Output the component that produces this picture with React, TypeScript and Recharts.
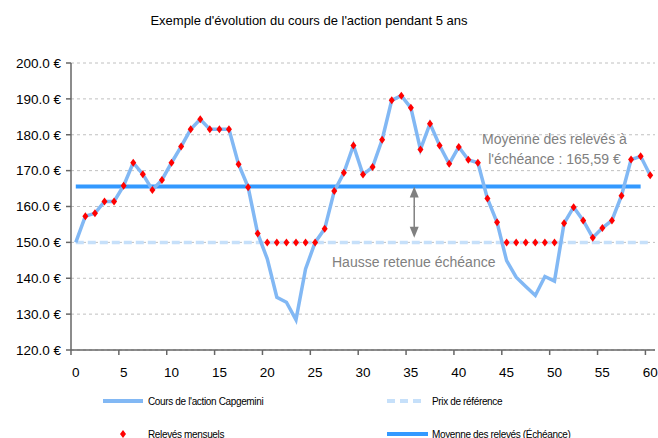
import React from 'react';
import { LineChart, Line, XAxis, YAxis, CartesianGrid, ReferenceLine, ReferenceDot } from 'recharts';

const MONTHS = [0,1,2,3,4,5,6,7,8,9,10,11,12,13,14,15,16,17,18,19,20,21,22,23,24,25,26,27,28,29,30,31,32,33,34,35,36,37,38,39,40,41,42,43,44,45,46,47,48,49,50,51,52,53,54,55,56,57,58,59,60];
const PRICES = [150,157.3,158.1,161.4,161.4,165.8,172.2,169.0,164.6,167.4,172.2,176.7,181.5,184.3,181.5,181.5,181.5,171.8,165.4,152.5,145.4,134.7,133.3,128.4,142.6,150.0,153.8,164.3,169.4,177.0,168.9,171.0,178.6,189.6,190.9,187.5,175.9,183.1,177.0,171.9,176.6,173.0,172.2,162.2,155.6,144.9,140.3,137.7,135.2,140.5,139.2,155.3,159.8,156.1,151.3,154.0,156.1,163.0,173.1,174.0,168.7];
const RELEVES = [null,157.3,158.1,161.4,161.4,165.8,172.2,169.0,164.6,167.4,172.2,176.7,181.5,184.3,181.5,181.5,181.5,171.8,165.4,152.5,150,150,150,150,150,150,153.8,164.3,169.4,177.0,168.9,171.0,178.6,189.6,190.9,187.5,175.9,183.1,177.0,171.9,176.6,173.0,172.2,162.2,155.6,150,150,150,150,150,150,155.3,159.8,156.1,151.3,154.0,156.1,163.0,173.1,174.0,168.7];
const REFERENCE_PRICE = 150;
const AVERAGE = 165.59;
const AVERAGE_LAST_MONTH = 59;
const X_TICKS = [0,5,10,15,20,25,30,35,40,45,50,55,60];
const Y_TICKS = [120,130,140,150,160,170,180,190,200];

const TITLE = "Exemple d'évolution du cours de l'action pendant 5 ans";
const LEGEND_PRICE = "Cours de l'action Capgemini";
const LEGEND_REF = 'Prix de référence';
const LEGEND_RELEVES = 'Relevés mensuels';
const LEGEND_AVG = 'Moyenne des relevés (Échéance)';
const NOTE_AVG_1 = 'Moyenne des relevés à';
const NOTE_AVG_2 = "l'échéance : 165,59 €";
const NOTE_HAUSSE = 'Hausse retenue échéance';

const FONT = "'Liberation Sans', Arial, sans-serif";
const C_PRICE = '#82B8F4';
const C_REF = '#C6E0FA';
const C_AVG = '#3399FF';
const C_RED = '#FF0000';
const C_NOTE = '#808080';

const data = MONTHS.map((m, i) => ({
  month: m,
  price: PRICES[i],
  releve: RELEVES[i],
  ref: REFERENCE_PRICE,
  avg: m <= AVERAGE_LAST_MONTH ? AVERAGE : null,
}));

const Diamond = (p: any) => {
  const { cx, cy, value, index } = p;
  if (value == null || cx == null || cy == null) return <g key={`d${index}`} />;
  return (
    <polygon
      key={`d${index}`}
      points={`${cx},${cy - 4} ${cx + 3},${cy} ${cx},${cy + 4} ${cx - 3},${cy}`}
      fill={C_RED}
    />
  );
};

const XTick = (p: any) => {
  const { x, payload } = p;
  return (
    <g>
      <line x1={x - 4.8} x2={x - 4.8} y1={350} y2={355} stroke="#666" strokeWidth={1.5} />
      <text x={x} y={377} textAnchor="middle" fontSize={13.5} fontFamily={FONT} fill="#000">
        {payload.value}
      </text>
    </g>
  );
};

const YTick = (p: any) => {
  const { y, payload } = p;
  return (
    <text x={61} y={y + 4.8} textAnchor="end" fontSize={13.5} fontFamily={FONT} fill="#000">
      {payload.value.toFixed(1) + ' €'}
    </text>
  );
};

const Arrow = (p: any) => {
  const { x1, y1, y2 } = p;
  const top = Math.min(y1, y2);
  const bot = Math.max(y1, y2);
  const x = x1;
  return (
    <g>
      <line x1={x} x2={x} y1={top + 8} y2={bot - 8} stroke={C_NOTE} strokeWidth={1.5} />
      <polygon points={`${x},${top} ${x + 4.5},${top + 11} ${x - 4.5},${top + 11}`} fill={C_NOTE} />
      <polygon points={`${x},${bot} ${x + 4.5},${bot - 11} ${x - 4.5},${bot - 11}`} fill={C_NOTE} />
    </g>
  );
};

const AvgNote = (p: any) => (
  <text x={p.cx} y={p.cy} textAnchor="middle" fontSize={14} fontFamily={FONT} fill={C_NOTE}>
    <tspan x={p.cx} dy={5}>{NOTE_AVG_1}</tspan>
    <tspan x={p.cx} dy={20}>{NOTE_AVG_2}</tspan>
  </text>
);

const HausseNote = (p: any) => (
  <text x={p.cx} y={p.cy + 5} textAnchor="middle" fontSize={14} fontFamily={FONT} fill={C_NOTE}>
    {NOTE_HAUSSE}
  </text>
);

const LEG = { fontSize: 10, fontFamily: FONT, fill: '#000', letterSpacing: -0.35 } as const;

export default function App() {
  return (
    <div style={{ position: 'absolute', left: 0, top: 0, width: 658, height: 438, background: '#fff' }}>
      <LineChart
        width={658}
        height={438}
        data={data}
        margin={{ top: 63, right: 3, bottom: 58, left: 0 }}
      >
        <CartesianGrid vertical={false} stroke="#C0C0C0" strokeDasharray="3 3" />
        <XAxis
          dataKey="month"
          type="number"
          domain={[-0.5, 60.5]}
          ticks={X_TICKS}
          interval={0}
          height={30}
          tickLine={false}
          axisLine={{ stroke: '#666', strokeWidth: 1.5 }}
          tick={<XTick />}
        />
        <YAxis
          domain={[120, 200]}
          ticks={Y_TICKS}
          interval={0}
          width={71}
          tickSize={5}
          tickLine={{ stroke: '#666', strokeWidth: 1.5 }}
          axisLine={{ stroke: '#666', strokeWidth: 1.5 }}
          tick={<YTick />}
        />
        <Line dataKey="ref" stroke={C_REF} strokeWidth={3.5} strokeDasharray="8 4" dot={false} isAnimationActive={false} />
        <Line dataKey="avg" stroke={C_AVG} strokeWidth={4} dot={false} isAnimationActive={false} />
        <Line dataKey="price" stroke={C_PRICE} strokeWidth={3.5} dot={false} isAnimationActive={false} />
        <Line dataKey="releve" stroke="none" dot={Diamond} activeDot={false} isAnimationActive={false} />
        <ReferenceLine
          segment={[{ x: 35.35, y: AVERAGE }, { x: 35.35, y: REFERENCE_PRICE + 1.3 }]}
          shape={Arrow}
        />
        <ReferenceDot x={50} y={178.7} r={0} shape={AvgNote} />
        <ReferenceDot x={35.3} y={144.5} r={0} shape={HausseNote} />
      </LineChart>
      <svg
        width={658}
        height={438}
        style={{ position: 'absolute', left: 0, top: 0, pointerEvents: 'none' }}
      >
        <text x={309} y={24.5} textAnchor="middle" fontSize={13} fontFamily={FONT} fill="#000">
          {TITLE}
        </text>
        <line x1={103} x2={143} y1={401} y2={401} stroke={C_PRICE} strokeWidth={4} />
        <text x={148} y={404.5} {...LEG}>{LEGEND_PRICE}</text>
        <line x1={387} x2={423} y1={401} y2={401} stroke={C_REF} strokeWidth={4} strokeDasharray="8 5" />
        <text x={432} y={404.5} {...LEG}>{LEGEND_REF}</text>
        <polygon points="123,430 126,434 123,438 120,434" fill={C_RED} />
        <text x={148} y={437.5} {...LEG}>{LEGEND_RELEVES}</text>
        <line x1={387} x2={428} y1={434} y2={434} stroke={C_AVG} strokeWidth={4} />
        <text x={432} y={437.5} {...LEG}>{LEGEND_AVG}</text>
      </svg>
    </div>
  );
}
